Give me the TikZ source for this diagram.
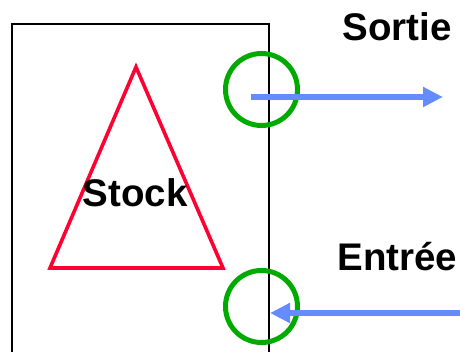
\documentclass[tikz,border=0pt]{standalone}
\usepackage{fontspec}
\setmainfont{Liberation Sans}
\usetikzlibrary{arrows.meta}
\definecolor{stockred}{RGB}{255,0,51}
\definecolor{ringgreen}{RGB}{0,170,0}
\definecolor{flowblue}{RGB}{100,140,255}
\tikzset{
  label/.style={font=\fontsize{38.5}{40}\selectfont\bfseries, inner sep=0pt},
  ring/.style={draw=ringgreen, line width=5pt, circle, minimum size=72pt, inner sep=0pt},
  flow/.style={draw=flowblue, line width=6pt, -{Triangle[length=20pt,width=19pt]}}
}
\begin{document}
\begin{tikzpicture}[x=1pt,y=-1pt]
\useasboundingbox (0,0) rectangle (460,352);
% box
\draw[line width=1.3pt] (12,360) -- (12,24) -- (269,24) -- (269,360);
% triangle
\draw[stockred, line width=3.6pt, line join=miter] (136,67) -- (223,268) -- (50,268) -- cycle;
\node[label, anchor=base] (stock) at (135,207) {Stock};
% rings
\node[ring] (ringout) at (261.5,89.5) {};
\node[ring] (ringin) at (261.5,306.5) {};
% flows
\coordinate (outstart) at (251,97);
\coordinate (outend) at (443,97);
\draw[flow] (outstart) -- (outend);
\coordinate (instart) at (462,313);
\coordinate (inend) at (270,313);
\draw[flow] (instart) -- (inend);
% labels
\node[label, anchor=base] (sortie) at (397,41) {Sortie};
\node[label, anchor=base] (entree) at (397.5,271) {Entrée};
\end{tikzpicture}
\end{document}
